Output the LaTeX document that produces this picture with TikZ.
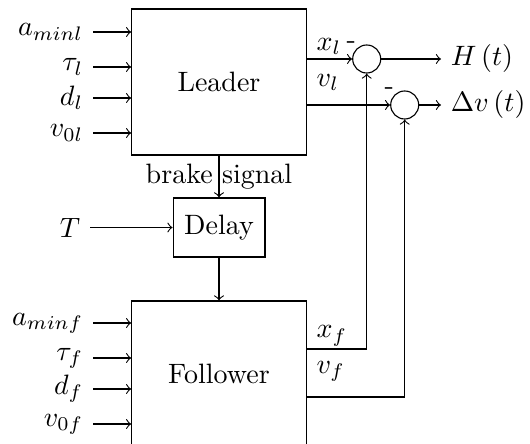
\documentclass[tikz,border=0pt]{standalone}
\usepackage{amsmath}
\usetikzlibrary{positioning,calc}

\begin{document}
\begin{tikzpicture}[x=0.357pt,y=-0.357pt,>=to,
   blk/.style={draw,minimum width=62.3pt,minimum height=52.1pt,align=center},
   sum/.style={draw,circle,minimum size=10pt,inner sep=0pt},
   minus/.style={label={[inner sep=1pt,label distance=-1.5pt]north west:-}}]
  \useasboundingbox (0,0) rectangle (530,444);
  \clip (0,0) rectangle (530,444);
  % blocks
  \node[blk] (leader) at (219,82) {Leader};
  \node[draw,minimum width=32.8pt,minimum height=21.1pt] (delay) at (219,227.5) {Delay};
  \node[blk] (follower) at (219,374) {Follower};
  \node[sum,minus] (s1) at (366.7,59) {};
  \node[sum,minus] (s2) at (404.7,105) {};
  % leader inputs
  \node[anchor=east] (aminl) at (93,32) {$a_{minl}$};
  \node[anchor=east] (taul) at (93,67) {$\tau_l$};
  \node[anchor=east] (dl) at (93,98) {$d_l$};
  \node[anchor=east] (vl0) at (93,133) {$v_{0l}$};
  \draw[->] (aminl) -- (aminl -| leader.west);
  \draw[->] (taul) -- (taul -| leader.west);
  \draw[->] (dl) -- (dl -| leader.west);
  \draw[->] (vl0) -- (vl0 -| leader.west);
  % follower inputs
  \node[anchor=east] (aminf) at (93,323) {$a_{minf}$};
  \node[anchor=east] (tauf) at (93,358) {$\tau_f$};
  \node[anchor=east] (df) at (93,389) {$d_f$};
  \node[anchor=east] (vf0) at (93,424) {$v_{0f}$};
  \draw[->] (aminf) -- (aminf -| follower.west);
  \draw[->] (tauf) -- (tauf -| follower.west);
  \draw[->] (df) -- (df -| follower.west);
  \draw[->] (vf0) -- (vf0 -| follower.west);
  % delay
  \node[anchor=east] (T) at (90,227.5) {$T$};
  \draw[->] (T) -- (delay);
  \draw[->] (leader) -- node{brake signal} (delay);
  \draw[->] (delay) -- (follower);
  % outputs
  \node[anchor=west] (H) at (441,59) {$H\left(t\right)$};
  \node[anchor=west] (dv) at (441,105) {$\Delta v\left(t\right)$};
  \draw[->] (leader.east |- s1) node[above right=-2pt and 0pt]{$x_l$} -- (s1);
  \draw[->] (leader.east |- s2) node[above right=1.5pt and 0pt]{$v_l$} -- (s2);
  \draw[->] (follower.east |- 0,349) node[above right=-2.4pt and 0pt]{$x_f$} -| (s1);
  \draw[->] (follower.east |- 0,397) node[above right=2pt and 0pt]{$v_f$} -| (s2);
  \draw[->] (s1) -- (H);
  \draw[->] (s2) -- (dv);
\end{tikzpicture}
\end{document}
